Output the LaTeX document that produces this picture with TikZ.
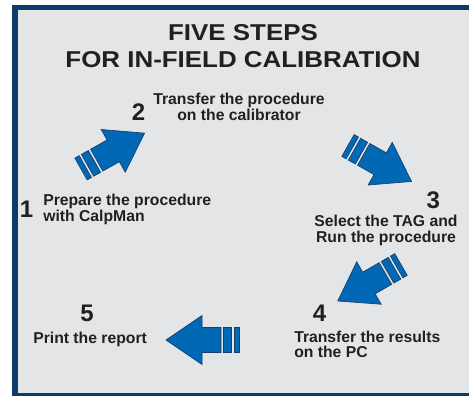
\documentclass[tikz,border=0pt]{standalone}
\usepackage{fontspec}
\setmainfont{Liberation Sans}
\definecolor{frameblue}{HTML}{0E3C6A}
\definecolor{bggray}{HTML}{E4E5E7}
\definecolor{arrowfill}{HTML}{0068B4}
\definecolor{arrowline}{HTML}{163F6E}
\definecolor{txt}{HTML}{231F20}
\tikzset{
  arrowshape/.style={fill=arrowfill, draw=arrowline, line width=0.5pt, line join=miter},
  blockarrow/.pic={
    \path[arrowshape] (18,-12.5) -- (37,-12.5) -- (37,-24.5) -- (73,0) -- (37,24.5) -- (37,12.5) -- (18,12.5) -- cycle;
    \path[arrowshape] (7.5,-12.5) rectangle (15.5,12.5);
    \path[arrowshape] (0,-12.5) rectangle (5,12.5);
  },
  titletext/.style={font=\bfseries\fontsize{17.2}{20.6}\selectfont, text=txt, inner sep=0pt, align=center, xscale=1.13, transform shape},
  lbl/.style={font=\bfseries\fontsize{11.8}{11.8}\selectfont, text=txt, inner sep=0pt},
  digit/.style={font=\bfseries\fontsize{18}{18}\selectfont, text=txt, inner sep=0pt},
}
\begin{document}
\begin{tikzpicture}[x=0.75pt,y=-0.75pt]
\useasboundingbox (0,0) rectangle (469,396);
\fill[white] (0,0) rectangle (469,396);
\fill[frameblue] (12,5) rectangle (469,396);
\fill[bggray] (18,10) rectangle (469,393);

\node[titletext, anchor=north] (title) at (243,24) {FIVE STEPS\\FOR IN-FIELD CALIBRATION};

% arrows
\pic[rotate=29.4] (arrowA) at (81,169) {blockarrow};
\pic[rotate=-29.5] (arrowB) at (348,145.5) {blockarrow};
\pic[rotate=210] (arrowC) at (401,264.5) {blockarrow};
\pic[rotate=180] (arrowD) at (239,340) {blockarrow};

% step 1
\node[digit] (n1) at (26.5,209.5) {1};
\node[lbl, align=left, anchor=north west] (t1) at (43,194.3) {Prepare the procedure\\with CalpMan};
% step 2
\node[digit] (n2) at (138.5,112) {2};
\node[lbl, align=center, anchor=north] (t2) at (239,93.3) {Transfer the procedure\\on the calibrator};
% step 3
\node[digit] (n3) at (433.3,200.6) {3};
\node[lbl, align=center, anchor=north] (t3) at (386,214.8) {Select the TAG and\\Run the procedure};
% step 4
\node[digit] (n4) at (319.5,313) {4};
\node[lbl, align=left, anchor=north west] (t4) at (294,330.5) {Transfer the results\\on the PC};
% step 5
\node[digit] (n5) at (87,313) {5};
\node[lbl, anchor=base west] (t5) at (33,343) {Print the report};
\end{tikzpicture}
\end{document}
